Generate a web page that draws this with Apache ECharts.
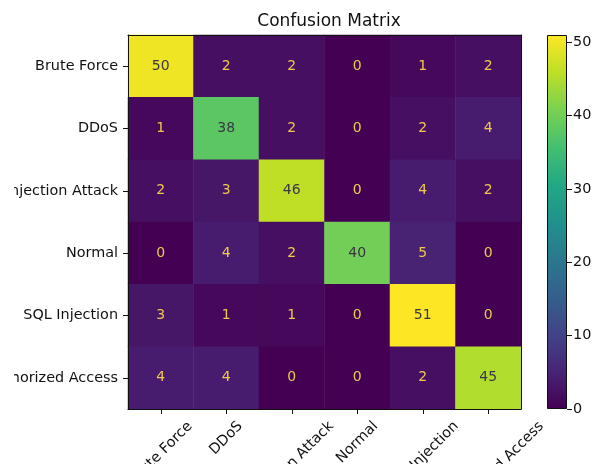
<!DOCTYPE html>
<html>
<head>
<meta charset="utf-8">
<script src="https://cdn.jsdelivr.net/npm/echarts@6/dist/echarts.min.js"></script>
<style>
html,body{margin:0;padding:0;background:#fff;}
#wrap{position:relative;width:592px;height:464px;overflow:hidden;background:#fff;}
#chart{position:absolute;left:14px;top:0;width:578px;height:464px;}
</style>
</head>
<body>
<div id="wrap"><div id="chart"></div></div>
<script>
// ---- data ----
const categories = ['Brute Force', 'DDoS', 'Injection Attack', 'Normal', 'SQL Injection', 'Unauthorized Access'];
const rowBruteForce = [50, 2, 2, 0, 1, 2];
const rowDDoS = [1, 38, 2, 0, 2, 4];
const rowInjectionAttack = [2, 3, 46, 0, 4, 2];
const rowNormal = [0, 4, 2, 40, 5, 0];
const rowSQLInjection = [3, 1, 1, 0, 51, 0];
const rowUnauthorizedAccess = [4, 4, 0, 0, 2, 45];
const colorbarMin = 0;
const colorbarMax = 51;
const colorbarTickStep = 10;
const chartTitle = 'Confusion Matrix';

// ---- build ----
const rows = [rowBruteForce, rowDDoS, rowInjectionAttack, rowNormal, rowSQLInjection, rowUnauthorizedAccess];
const viridis = ['#440154', '#482475', '#414487', '#355f8d', '#2a788e', '#21918c', '#22a884', '#44bf70', '#7ad151', '#bddf26', '#fde725'];
const FONT = '"DejaVu Sans", sans-serif';
const LABEL_SIZE = 14.4;
const LABEL_LH = 17;

let vmax = -Infinity, vmin = Infinity;
rows.forEach(r => r.forEach(v => { vmax = Math.max(vmax, v); vmin = Math.min(vmin, v); }));
const thresh = (vmax + vmin) / 2;

const heatData = [];
rows.forEach((r, yi) => r.forEach((v, xi) => {
  heatData.push({
    value: [xi, yi, v],
    label: { color: v > thresh ? '#3a3546' : '#f0c94a' }
  });
}));

// x labels: emulate matplotlib rotated labels whose rotated bbox is centred under the tick
const ctx = document.createElement('canvas').getContext('2d');
ctx.font = LABEL_SIZE + 'px ' + FONT;
const X_MARGIN = 0;
const X_GAP = 9;   // gap from axis line to top of rotated bbox
const xData = categories.map(name => {
  const w = ctx.measureText(name).width;
  const b = (X_GAP - X_MARGIN + 0.7071 * (w + LABEL_LH) / 2) / 1.4142;
  const pt = Math.max(0, b - LABEL_LH / 2);
  const pr = 2 * b;
  return {
    value: name,
    textStyle: {
      align: 'center', verticalAlign: 'top', padding: [pt, pr, 0, 0],
      fontFamily: FONT, fontSize: LABEL_SIZE, lineHeight: LABEL_LH, color: '#111'
    }
  };
});

const gradStops = viridis.map((c, i) => ({ offset: i / (viridis.length - 1), color: c }));

const chart = echarts.init(document.getElementById('chart'), null, { renderer: 'canvas' });
chart.setOption({
  animation: false,
  title: {
    text: chartTitle,
    left: 310,
    textAlign: 'center',
    top: 8,
    textStyle: { fontFamily: FONT, fontSize: 17, fontWeight: 'normal', color: '#111' }
  },
  grid: [
    { left: 114, top: 35, width: 393, height: 374, outerBoundsMode: 'none', containLabel: false },
    { left: 533, top: 35, width: 20, height: 374, outerBoundsMode: 'none', containLabel: false }
  ],
  xAxis: [
    {
      type: 'category', gridIndex: 0, data: xData, position: 'bottom', z: 10,
      axisLine: { show: true, lineStyle: { color: '#111', width: 1 } },
      axisTick: { show: true, alignWithLabel: true, length: 5, lineStyle: { color: '#111' } },
      axisLabel: {
        interval: 0, rotate: 45, align: 'center', verticalAlign: 'top',
        margin: X_MARGIN, fontFamily: FONT, fontSize: LABEL_SIZE, lineHeight: LABEL_LH, color: '#111',
        hideOverlap: false
      },
      splitLine: { show: false }
    },
    {
      type: 'category', gridIndex: 0, data: categories, position: 'top', z: 10,
      axisLine: { show: true, lineStyle: { color: '#111', width: 1 } },
      axisTick: { show: false }, axisLabel: { show: false }, splitLine: { show: false }
    },
    {
      type: 'category', gridIndex: 1, data: ['cb'], show: false
    }
  ],
  yAxis: [
    {
      type: 'category', gridIndex: 0, data: categories, inverse: true, position: 'left', z: 10,
      axisLine: { show: true, lineStyle: { color: '#111', width: 1 } },
      axisTick: { show: true, alignWithLabel: true, length: 5, lineStyle: { color: '#111' } },
      axisLabel: { interval: 0, margin: 10, fontFamily: FONT, fontSize: LABEL_SIZE, color: '#111' },
      splitLine: { show: false }
    },
    {
      type: 'category', gridIndex: 0, data: categories, inverse: true, position: 'right', z: 10,
      axisLine: { show: true, lineStyle: { color: '#111', width: 1 } },
      axisTick: { show: false }, axisLabel: { show: false }, splitLine: { show: false }
    },
    {
      type: 'value', gridIndex: 1, min: colorbarMin, max: colorbarMax, interval: colorbarTickStep,
      position: 'right', z: 10,
      axisLine: { show: false },
      axisTick: { show: true, length: 5, lineStyle: { color: '#111' } },
      axisLabel: { margin: 6, fontFamily: FONT, fontSize: LABEL_SIZE, color: '#111',
        showMaxLabel: false },
      splitLine: { show: false }
    }
  ],
  visualMap: {
    type: 'continuous', show: false, seriesIndex: 0, dimension: 2,
    min: colorbarMin, max: colorbarMax, inRange: { color: viridis }
  },
  series: [
    {
      type: 'heatmap', xAxisIndex: 0, yAxisIndex: 0, data: heatData,
      label: { show: true, fontFamily: FONT, fontSize: 14, formatter: p => String(p.value[2]) },
      itemStyle: { borderWidth: 0 },
      emphasis: { disabled: true }
    },
    {
      type: 'bar', xAxisIndex: 2, yAxisIndex: 2, data: [colorbarMax], barWidth: '100%',
      silent: true,
      itemStyle: {
        color: new echarts.graphic.LinearGradient(0, 1, 0, 0, gradStops),
        borderColor: '#111', borderWidth: 1
      }
    }
  ]
});
</script>
</body>
</html>
